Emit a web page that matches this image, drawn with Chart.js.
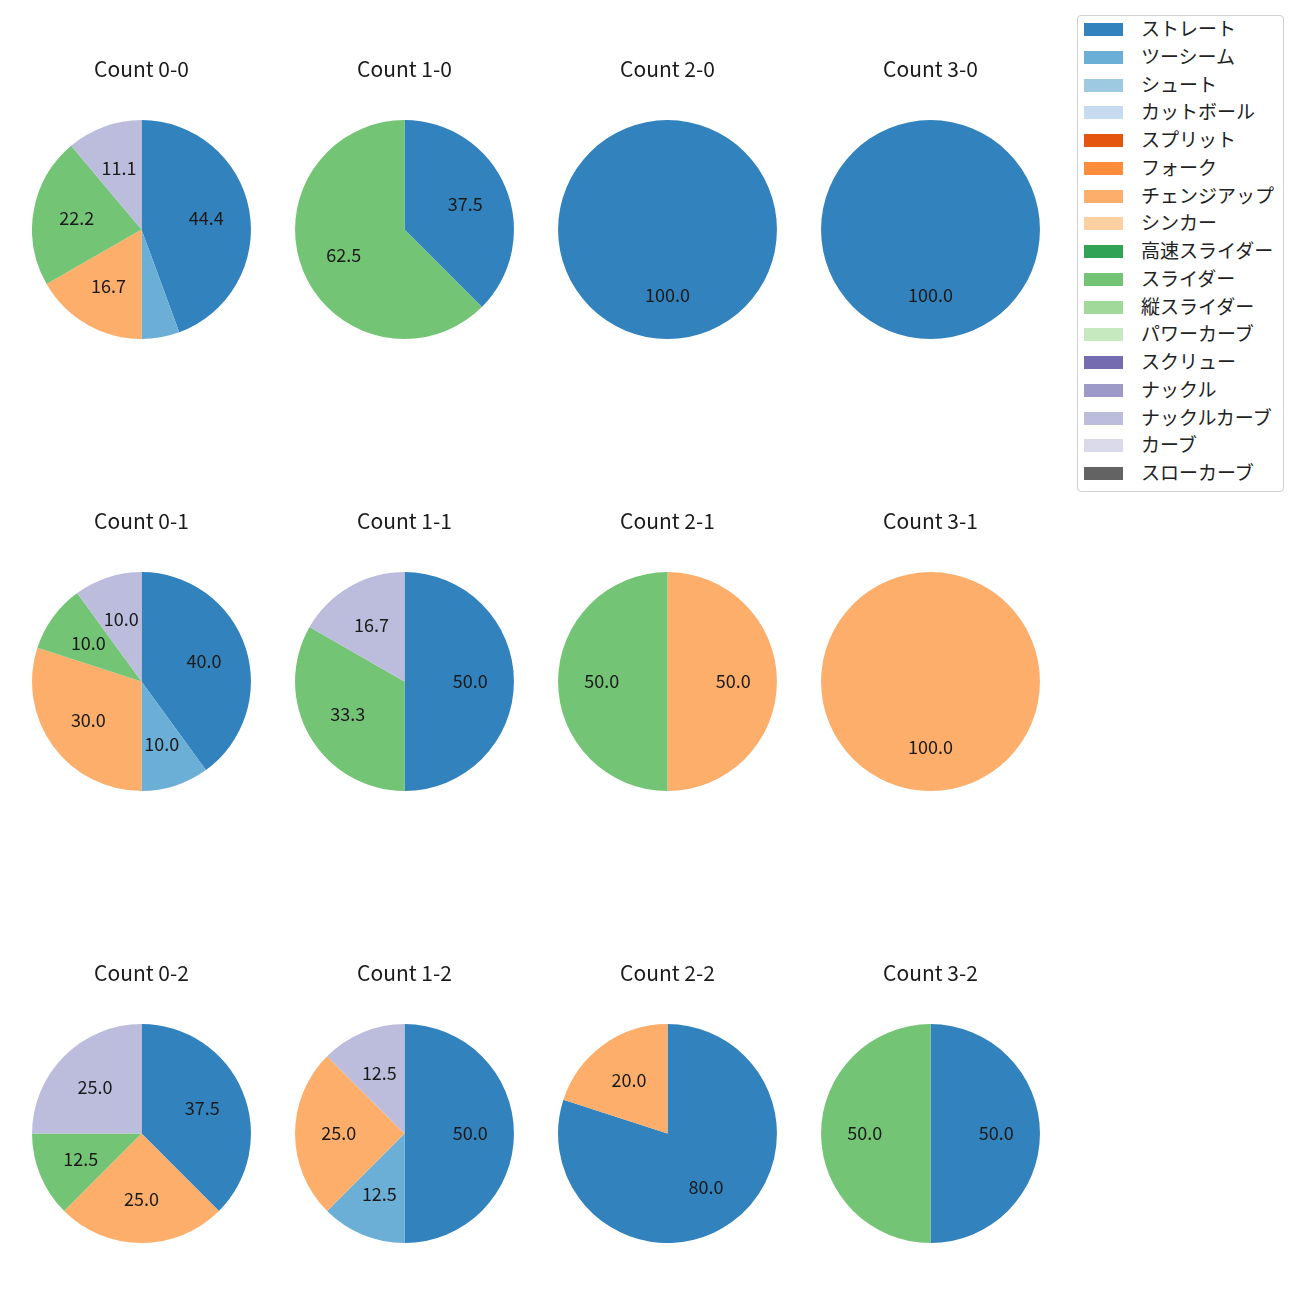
<!DOCTYPE html>
<html>
<head>
<meta charset="utf-8">
<script src="https://cdn.jsdelivr.net/npm/chart.js@4"></script>
<style>
  body { margin: 0; background: #fff; font-family: "Noto Sans CJK JP", sans-serif; }
  #wrap { position: relative; width: 1300px; height: 1300px; }
  .pie { position: absolute; }
  #legend {
    position: absolute; left: 1077px; top: 15px; width: 207px; height: 477px;
    border: 1px solid #d0d0d0; border-radius: 4px; box-sizing: border-box;
  }
  .item { position: absolute; left: 0; height: 20px; font-size: 19px; color: #222; white-space: nowrap; }
  .swatch { position: absolute; left: 6px; top: 4px; width: 39px; height: 13px; }
  .lbl { position: absolute; left: 63px; top: -4px; line-height: 26px; }
</style>
</head>
<body>
<div id="wrap"><div id="legend"></div></div>
<script>
// pitch types and colors (tab20c)
const pitchTypes = ['ストレート', 'ツーシーム', 'シュート', 'カットボール', 'スプリット', 'フォーク',
  'チェンジアップ', 'シンカー', '高速スライダー', 'スライダー', '縦スライダー', 'パワーカーブ',
  'スクリュー', 'ナックル', 'ナックルカーブ', 'カーブ', 'スローカーブ']
const colors = ['#3182bd', '#6baed6', '#9ecae1', '#c6dbef', '#e6550d', '#fd8d3c',
  '#fdae6b', '#fdd0a2', '#31a354', '#74c476', '#a1d99b', '#c7e9c0',
  '#756bb1', '#9e9ac8', '#bcbddc', '#dadaeb', '#636363']

// percentages per count, same order as pitchTypes
const count00 = [44.4, 5.6, 0, 0, 0, 0, 16.7, 0, 0, 22.2, 0, 0, 0, 0, 11.1, 0, 0]
const count10 = [37.5, 0, 0, 0, 0, 0, 0, 0, 0, 62.5, 0, 0, 0, 0, 0, 0, 0]
const count20 = [100, 0, 0, 0, 0, 0, 0, 0, 0, 0, 0, 0, 0, 0, 0, 0, 0]
const count30 = [100, 0, 0, 0, 0, 0, 0, 0, 0, 0, 0, 0, 0, 0, 0, 0, 0]
const count01 = [40, 10, 0, 0, 0, 0, 30, 0, 0, 10, 0, 0, 0, 0, 10, 0, 0]
const count11 = [50, 0, 0, 0, 0, 0, 0, 0, 0, 33.3, 0, 0, 0, 0, 16.7, 0, 0]
const count21 = [0, 0, 0, 0, 0, 0, 50, 0, 0, 50, 0, 0, 0, 0, 0, 0, 0]
const count31 = [0, 0, 0, 0, 0, 0, 100, 0, 0, 0, 0, 0, 0, 0, 0, 0, 0]
const count02 = [37.5, 0, 0, 0, 0, 0, 25, 0, 0, 12.5, 0, 0, 0, 0, 25, 0, 0]
const count12 = [50, 12.5, 0, 0, 0, 0, 25, 0, 0, 0, 0, 0, 0, 0, 12.5, 0, 0]
const count22 = [80, 0, 0, 0, 0, 0, 20, 0, 0, 0, 0, 0, 0, 0, 0, 0, 0]
const count32 = [50, 0, 0, 0, 0, 0, 0, 0, 0, 50, 0, 0, 0, 0, 0, 0, 0]

const titles = ['Count 0-0', 'Count 1-0', 'Count 2-0', 'Count 3-0',
  'Count 0-1', 'Count 1-1', 'Count 2-1', 'Count 3-1',
  'Count 0-2', 'Count 1-2', 'Count 2-2', 'Count 3-2']
const values = [count00, count10, count20, count30, count01, count11, count21, count31,
  count02, count12, count22, count32]

const colX = [141, 404, 667, 930]
const rowTitleY = [69, 521, 973]
const R = 109.5
const titleSize = 21

// draws the percentage inside each slice at 0.6 of the radius
const pctLabels = {
  id: 'pctLabels',
  afterDatasetsDraw(chart) {
    const ctx = chart.ctx
    const data = chart.data.datasets[0].data
    const total = data.reduce((a, b) => a + b, 0)
    ctx.save()
    ctx.font = '18px "Noto Sans CJK JP", sans-serif'
    ctx.fillStyle = '#1a1a1a'
    ctx.textAlign = 'center'
    ctx.textBaseline = 'middle'
    chart.getDatasetMeta(0).data.forEach((arc, i) => {
      const pct = data[i] / total * 100
      if (pct < 7) return
      const a = (arc.startAngle + arc.endAngle) / 2
      const r = arc.outerRadius * 0.6
      ctx.fillText(pct.toFixed(1), arc.x + Math.cos(a) * r, arc.y + Math.sin(a) * r)
    })
    ctx.restore()
  }
}

const wrap = document.getElementById('wrap')
values.forEach((vals, k) => {
  const col = k % 4, row = Math.floor(k / 4)
  const canvas = document.createElement('canvas')
  canvas.className = 'pie'
  const lineH = titleSize * 1.2
  const top = rowTitleY[row] - 10 - lineH / 2
  // gap so that the pie centre sits 161px under the title
  const gap = 161 - lineH / 2 - R
  const w = 2 * R, titleH = 10 + lineH + gap
  canvas.style.left = (colX[col] - R) + 'px'
  canvas.style.top = top + 'px'
  canvas.style.width = w + 'px'
  canvas.style.height = (titleH + w) + 'px'
  canvas.width = w
  canvas.height = titleH + w
  wrap.appendChild(canvas)
  new Chart(canvas, {
    type: 'pie',
    data: {
      labels: pitchTypes,
      datasets: [{ data: vals, backgroundColor: colors, borderWidth: 0 }]
    },
    options: {
      responsive: false,
      animation: false,
      layout: { padding: 0 },
      plugins: {
        legend: { display: false },
        tooltip: { enabled: false },
        title: {
          display: true,
          text: titles[k],
          color: '#1a1a1a',
          font: { size: titleSize, weight: 'normal', family: '"Noto Sans CJK JP", sans-serif' },
          padding: { top: 10, bottom: gap }
        }
      }
    },
    plugins: [pctLabels]
  })
})

// legend
const legend = document.getElementById('legend')
pitchTypes.forEach((name, i) => {
  const item = document.createElement('div')
  item.className = 'item'
  item.style.top = (3 + i * 27.75) + 'px'
  item.innerHTML = '<span class="swatch" style="background:' + colors[i] + '"></span><span class="lbl">' + name + '</span>'
  legend.appendChild(item)
})
</script>
</body>
</html>
